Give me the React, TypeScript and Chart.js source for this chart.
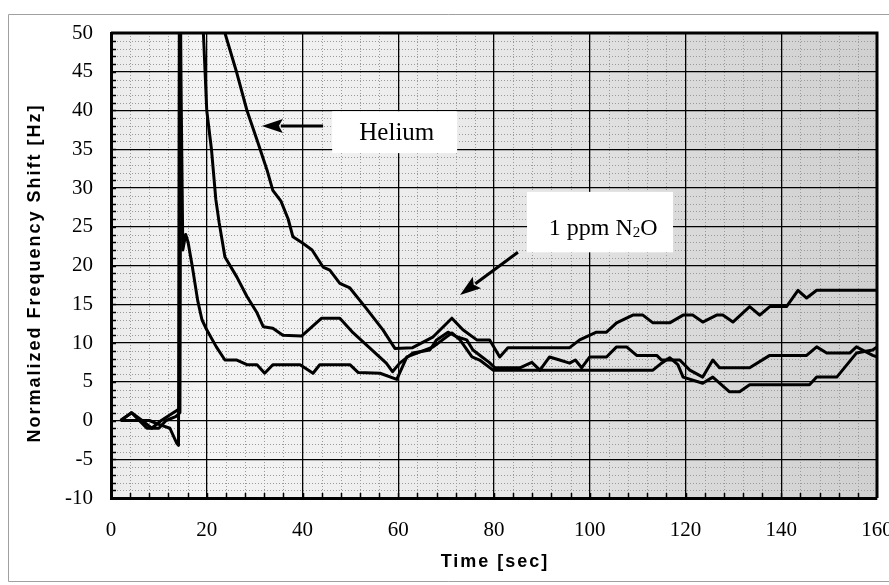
import React, { useEffect, useRef } from "react";
import { Chart, registerables } from "chart.js";

Chart.register(...registerables);

// ---------- data ----------
const X_TICKS = [0, 20, 40, 60, 80, 100, 120, 140, 160];
const Y_TICKS = [-10, -5, 0, 5, 10, 15, 20, 25, 30, 35, 40, 45, 50];

// upper trace (Helium response)
const traceATime = [2, 4.3, 6.5, 8.5, 10.5, 13, 14.3, 14.5, 22, 23.8, 26.3, 28.4, 30.5, 32.6, 33.8, 35.5, 37, 38, 40, 42, 44.3, 45.7, 47.8, 49.9, 53.4, 56.8, 59.3, 63, 67.3, 71.2, 73.5, 76.4, 79.1, 81.2, 82.9, 95.8, 97.9, 101.4, 103.5, 105.6, 109, 111.1, 113.2, 116.7, 119.5, 121.5, 123.6, 126.5, 127.8, 129.9, 133.4, 135.5, 137.6, 141.1, 143.5, 145.3, 147.4, 160];
const traceAShift = [0, 1, 0, -1, 0, 1, 1.5, 62, 62, 50, 44.8, 40, 36.2, 32.3, 29.7, 28.3, 26, 23.7, 22.9, 22, 19.8, 19.4, 17.7, 17.1, 14.4, 11.7, 9.3, 9.4, 10.8, 13.2, 11.7, 10.4, 10.4, 8.2, 9.4, 9.4, 10.4, 11.4, 11.4, 12.6, 13.6, 13.6, 12.6, 12.6, 13.6, 13.6, 12.7, 13.6, 13.6, 12.7, 14.7, 13.6, 14.7, 14.7, 16.8, 15.8, 16.8, 16.8];

// middle trace
const traceBTime = [2, 4.3, 7.5, 10, 11.5, 13.5, 14.4, 14.6, 18.5, 19.3, 20, 21, 21.9, 22.6, 23.8, 26.3, 28.4, 30.5, 31.8, 33.8, 35.9, 39.8, 44, 47.8, 50.6, 57.5, 58.8, 60.3, 63, 66.6, 68, 70.4, 72.2, 74.3, 75.6, 77.5, 79, 80.2, 85.4, 87.9, 89.6, 91.6, 93.7, 95.8, 97, 98.3, 100, 103.5, 105.6, 107.7, 109.8, 114, 115, 118.8, 120.9, 123.6, 125.7, 127.1, 133.4, 137.6, 145.3, 147.4, 149.5, 154.3, 155.7, 159.1, 160];
const traceBShift = [0, 1, -1, -1, 0, 0.5, 1, 62, 62, 50, 40, 34.9, 28.5, 25.5, 21.1, 18.5, 16, 13.9, 12.1, 11.9, 11, 10.9, 13.2, 13.2, 11.3, 7.4, 6.3, 7.4, 8.7, 9.1, 10.4, 11.4, 10.8, 10.4, 9.1, 8.2, 7.5, 6.8, 6.8, 7.5, 6.5, 8.2, 7.8, 7.4, 7.8, 6.8, 8.2, 8.2, 9.5, 9.5, 8.4, 8.4, 7.8, 7.8, 6.5, 5.6, 7.8, 6.8, 6.8, 8.4, 8.4, 9.5, 8.7, 8.7, 9.5, 8.4, 8.2];

// lower trace (1 ppm N2O)
const traceCTime = [2, 5, 8, 10, 12.3, 13.7, 14.1, 14.3, 15, 15.6, 16.1, 17, 18.1, 19, 20, 22, 23.8, 26.3, 28.4, 30.5, 32.1, 33.8, 39.5, 42.2, 43.6, 49.9, 51.6, 56.2, 59.7, 61.8, 63.9, 67.3, 70.1, 71.2, 72.9, 75.4, 77, 79.8, 113.2, 115, 116.7, 118.4, 119.5, 123.6, 125.7, 129.2, 131.3, 133.4, 145.9, 147.4, 151.6, 155.7, 159.1, 160];
const traceCShift = [0, 0, 0, -0.5, -1, -2.9, -3.2, 62, 22, 24, 23, 19.8, 15.5, 13, 11.7, 9.5, 7.8, 7.8, 7.2, 7.2, 6.1, 7.2, 7.2, 6.1, 7.2, 7.2, 6.2, 6.1, 5.3, 8.2, 8.7, 9.5, 10.8, 11.3, 10.4, 8.2, 7.8, 6.5, 6.5, 7.4, 8.1, 7.2, 5.6, 4.8, 5.6, 3.7, 3.7, 4.6, 4.6, 5.6, 5.6, 8.7, 9.1, 9.5];

const X_MIN = 0, X_MAX = 160, Y_MIN = -10, Y_MAX = 50;
const X_TITLE = "Time [sec]";
const Y_TITLE = "Normalized Frequency Shift [Hz]";

// annotation anchors in data units
const HELIUM_LABEL = { text: "Helium", t: 59.7, v: 36.2, box: [46.2, 72.3, 39.9, 34.5], arrowFrom: [44.3, 38.0], arrowTo: [31.5, 38.0] };
const N2O_LABEL = { t: 102.8, v: 23.9, box: [86.9, 117.4, 29.5, 21.7], arrowFrom: [85.0, 21.7], arrowTo: [72.9, 16.2] };

const SERIF = '"Liberation Serif", "Times New Roman", serif';
const SANS = '"Liberation Sans", Arial, sans-serif';

const toPoints = (t: number[], v: number[]) => t.map((x, i) => ({ x, y: v[i] }));

function drawArrow(ctx: CanvasRenderingContext2D, x1: number, y1: number, x2: number, y2: number) {
  const dx = x2 - x1, dy = y2 - y1;
  const len = Math.hypot(dx, dy);
  const ux = dx / len, uy = dy / len;
  const headLen = 21, headHalf = 7;
  const bx = x2 - ux * headLen, by = y2 - uy * headLen;
  ctx.beginPath();
  ctx.moveTo(x1, y1);
  ctx.lineTo(bx + ux * 2, by + uy * 2);
  ctx.lineWidth = 3;
  ctx.strokeStyle = "#000";
  ctx.stroke();
  ctx.beginPath();
  ctx.moveTo(x2, y2);
  ctx.lineTo(bx - uy * headHalf, by + ux * headHalf);
  ctx.lineTo(bx + ux * 4, by + uy * 4);
  ctx.lineTo(bx + uy * headHalf, by - ux * headHalf);
  ctx.closePath();
  ctx.fillStyle = "#000";
  ctx.fill();
}

const decorPlugin = {
  id: "decor",
  beforeDraw(chart: any) {
    const { ctx, chartArea: a } = chart;
    const x = chart.scales.x, y = chart.scales.y;
    ctx.save();
    ctx.fillStyle = "#fff";
    ctx.fillRect(0, 0, chart.width, chart.height);
    // faint outer figure frame
    ctx.strokeStyle = "#a0a0a0";
    ctx.lineWidth = 1;
    ctx.beginPath();
    ctx.moveTo(8.5, 581.5);
    ctx.lineTo(8.5, 14.5);
    ctx.lineTo(889, 14.5);
    ctx.moveTo(8.5, 581.5);
    ctx.lineTo(889, 581.5);
    ctx.stroke();
    // stippled plot background
    const g = ctx.createLinearGradient(a.left, 0, a.right, 0);
    g.addColorStop(0, "#ebebeb");
    g.addColorStop(0.12, "#f4f4f4");
    g.addColorStop(0.3, "#f0f0f0");
    g.addColorStop(0.55, "#e6e6e6");
    g.addColorStop(0.75, "#dadada");
    g.addColorStop(1, "#d0d0d0");
    ctx.fillStyle = g;
    ctx.fillRect(a.left, a.top, a.width, a.height);
    // minor dotted grid
    ctx.setLineDash([1, 2]);
    ctx.strokeStyle = "#9a9a9a";
    ctx.lineWidth = 1;
    ctx.beginPath();
    for (let v = Y_MIN + 1; v < Y_MAX; v += 1) {
      if (v % 5 === 0) continue;
      const py = Math.round(y.getPixelForValue(v)) + 0.5;
      ctx.moveTo(a.left, py);
      ctx.lineTo(a.right, py);
    }
    for (let t = X_MIN + 4; t < X_MAX; t += 4) {
      if (t % 20 === 0) continue;
      const px = Math.round(x.getPixelForValue(t)) + 0.5;
      ctx.moveTo(px, a.top);
      ctx.lineTo(px, a.bottom);
    }
    ctx.stroke();
    ctx.restore();
  },
  afterDatasetsDraw(chart: any) {
    const { ctx, chartArea: a } = chart;
    const x = chart.scales.x, y = chart.scales.y;
    const px = (t: number) => x.getPixelForValue(t);
    const py = (v: number) => y.getPixelForValue(v);
    ctx.save();
    // frame top / right
    ctx.strokeStyle = "#000";
    ctx.lineWidth = 3;
    ctx.beginPath();
    ctx.moveTo(a.left, a.top);
    ctx.lineTo(a.right, a.top);
    ctx.lineTo(a.right, a.bottom);
    ctx.stroke();
    // minor tick marks
    ctx.lineWidth = 1.5;
    ctx.beginPath();
    for (let v = Y_MIN + 1; v < Y_MAX; v += 1) {
      const yy = Math.round(py(v)) + 0.5;
      ctx.moveTo(a.left, yy);
      ctx.lineTo(a.left + 5, yy);
    }
    for (let t = X_MIN + 4; t < X_MAX; t += 4) {
      const xx = Math.round(px(t)) + 0.5;
      ctx.moveTo(xx, a.bottom);
      ctx.lineTo(xx, a.bottom - 5);
    }
    ctx.stroke();

    // label boxes
    ctx.fillStyle = "#fff";
    const hb = HELIUM_LABEL.box;
    ctx.fillRect(px(hb[0]), py(hb[2]), px(hb[1]) - px(hb[0]), py(hb[3]) - py(hb[2]));
    const nb = N2O_LABEL.box;
    ctx.fillRect(px(nb[0]), py(nb[2]), px(nb[1]) - px(nb[0]), py(nb[3]) - py(nb[2]));

    ctx.fillStyle = "#000";
    ctx.textBaseline = "alphabetic";
    ctx.textAlign = "center";
    ctx.font = `25px ${SERIF}`;
    ctx.fillText(HELIUM_LABEL.text, px(HELIUM_LABEL.t), py(HELIUM_LABEL.v));

    // 1 ppm N2O with subscript
    const big = `24px ${SERIF}`, small = `15px ${SERIF}`;
    ctx.textAlign = "left";
    ctx.font = big;
    const w1 = ctx.measureText("1 ppm N").width;
    const w3 = ctx.measureText("O").width;
    ctx.font = small;
    const w2 = ctx.measureText("2").width;
    const total = w1 + w2 + w3;
    let sx = px(N2O_LABEL.t) - total / 2;
    const by = py(N2O_LABEL.v);
    ctx.font = big;
    ctx.fillText("1 ppm N", sx, by);
    sx += w1;
    ctx.font = small;
    ctx.fillText("2", sx, by + 2);
    sx += w2;
    ctx.font = big;
    ctx.fillText("O", sx, by);

    drawArrow(ctx, px(HELIUM_LABEL.arrowFrom[0]), py(HELIUM_LABEL.arrowFrom[1]), px(HELIUM_LABEL.arrowTo[0]), py(HELIUM_LABEL.arrowTo[1]));
    drawArrow(ctx, px(N2O_LABEL.arrowFrom[0]), py(N2O_LABEL.arrowFrom[1]), px(N2O_LABEL.arrowTo[0]), py(N2O_LABEL.arrowTo[1]));
    ctx.restore();
  },
  afterDraw(chart: any) {
    const { ctx, chartArea: a } = chart;
    ctx.save();
    ctx.fillStyle = "#000";
    ctx.font = `bold 18px ${SANS}`;
    (ctx as any).letterSpacing = "2px";
    ctx.textAlign = "center";
    ctx.textBaseline = "middle";
    ctx.fillText(X_TITLE, (a.left + a.right) / 2 + 1, 562);
    ctx.translate(35, 273);
    ctx.rotate(-Math.PI / 2);
    ctx.fillText(Y_TITLE, 0, 0);
    ctx.restore();
  },
};

const lineStyle = {
  borderColor: "#000",
  borderWidth: 3,
  pointRadius: 0,
  fill: false,
  tension: 0,
  clip: 0,
  borderJoinStyle: "round",
};

export default function App() {
  const ref = useRef<HTMLCanvasElement>(null);
  useEffect(() => {
    if (!ref.current) return;
    const chart = new Chart(ref.current, {
      type: "line",
      data: {
        datasets: [
          { label: "A", data: toPoints(traceATime, traceAShift), ...lineStyle },
          { label: "B", data: toPoints(traceBTime, traceBShift), ...lineStyle },
          { label: "C", data: toPoints(traceCTime, traceCShift), ...lineStyle },
        ] as any,
      },
      options: {
        animation: false,
        responsive: false,
        events: [],
        layout: { padding: { left: 0, right: 12, top: 33, bottom: 0 } },
        plugins: { legend: { display: false }, tooltip: { enabled: false } },
        scales: {
          x: {
            type: "linear",
            min: X_MIN,
            max: X_MAX,
            afterBuildTicks: (s: any) => { s.ticks = X_TICKS.map((value) => ({ value })); },
            afterFit: (s: any) => { s.height = 87; s.paddingLeft = 0; s.paddingRight = 0; },
            grid: { color: "#000", lineWidth: 1.3, drawTicks: false },
            border: { display: true, color: "#000", width: 3 },
            ticks: { color: "#000", font: { family: SERIF, size: 21 }, padding: 20, maxRotation: 0, autoSkip: false },
            title: { display: false },
          },
          y: {
            type: "linear",
            min: Y_MIN,
            max: Y_MAX,
            afterBuildTicks: (s: any) => { s.ticks = Y_TICKS.map((value) => ({ value })); },
            afterFit: (s: any) => { s.width = 111; s.paddingTop = 0; s.paddingBottom = 0; },
            grid: { color: "#000", lineWidth: 1.3, drawTicks: false },
            border: { display: true, color: "#000", width: 3 },
            ticks: { color: "#000", font: { family: SERIF, size: 21 }, padding: 18, autoSkip: false },
            title: { display: false },
          },
        },
      } as any,
      plugins: [decorPlugin as any],
    });
    return () => chart.destroy();
  }, []);
  return (
    <div style={{ position: "fixed", left: 0, top: 0, width: 889, height: 585, background: "#fff" }}>
      <canvas ref={ref} width={889} height={585} style={{ display: "block", width: 889, height: 585 }} />
    </div>
  );
}
